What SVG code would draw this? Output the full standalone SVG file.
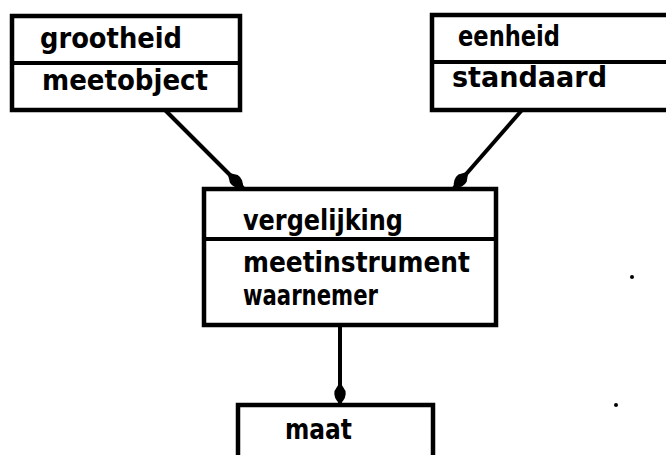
<svg xmlns="http://www.w3.org/2000/svg" width="666" height="455" viewBox="0 0 666 455">
<style>
.box{fill:#fff;stroke:#000;stroke-width:4.5}
.div{stroke:#000;stroke-width:4}
.t{font-family:"DejaVu Sans Condensed","DejaVu Sans",sans-serif;font-weight:bold;font-size:28px;fill:#000}
.c{stroke:#000;stroke-width:4;fill:none}
</style>
<defs>
<marker id="drop" viewBox="0 0 22 14" refX="22" refY="7" markerWidth="22" markerHeight="14" markerUnits="userSpaceOnUse" orient="auto">
<path d="M0,7 L9,1.5 Q16,0 22,7 Q16,14 9,12.5 Z" fill="#000"/>
</marker>
</defs>
<rect width="666" height="455" fill="#fff"/>
<g id="connectors">
<line class="c" x1="165" y1="110" x2="243" y2="188" marker-end="url(#drop)"/>
<line class="c" x1="522" y1="110" x2="454" y2="188" marker-end="url(#drop)"/>
<line class="c" x1="340" y1="325" x2="340" y2="404" marker-end="url(#drop)"/>
</g>
<g id="grootheid">
<rect class="box" x="12" y="16" width="228" height="94"/>
<line class="div" x1="12" y1="63" x2="240" y2="63"/>
<text class="t" x="40" y="48" textLength="142" lengthAdjust="spacingAndGlyphs">grootheid</text>
<text class="t" x="42" y="90" textLength="166" lengthAdjust="spacingAndGlyphs">meetobject</text>
</g>
<g id="eenheid">
<rect class="box" x="432" y="15" width="250" height="95"/>
<line class="div" x1="432" y1="62" x2="666" y2="62"/>
<text class="t" x="458" y="46" textLength="102" lengthAdjust="spacingAndGlyphs">eenheid</text>
<text class="t" x="452" y="87" textLength="155" lengthAdjust="spacingAndGlyphs">standaard</text>
</g>
<g id="vergelijking">
<rect class="box" x="204" y="189" width="292" height="136"/>
<line class="div" x1="204" y1="239" x2="496" y2="239"/>
<text class="t" x="243" y="230" textLength="160" lengthAdjust="spacingAndGlyphs">vergelijking</text>
<text class="t" x="243" y="272" textLength="227" lengthAdjust="spacingAndGlyphs">meetinstrument</text>
<text class="t" x="243" y="305" textLength="135" lengthAdjust="spacingAndGlyphs">waarnemer</text>
</g>
<g id="maat">
<rect class="box" x="238" y="405" width="195" height="60"/>
<text class="t" x="285" y="439" textLength="67" lengthAdjust="spacingAndGlyphs">maat</text>
</g>
<circle cx="632" cy="277" r="2" fill="#000"/>
<circle cx="616" cy="405" r="2" fill="#000"/>
</svg>
